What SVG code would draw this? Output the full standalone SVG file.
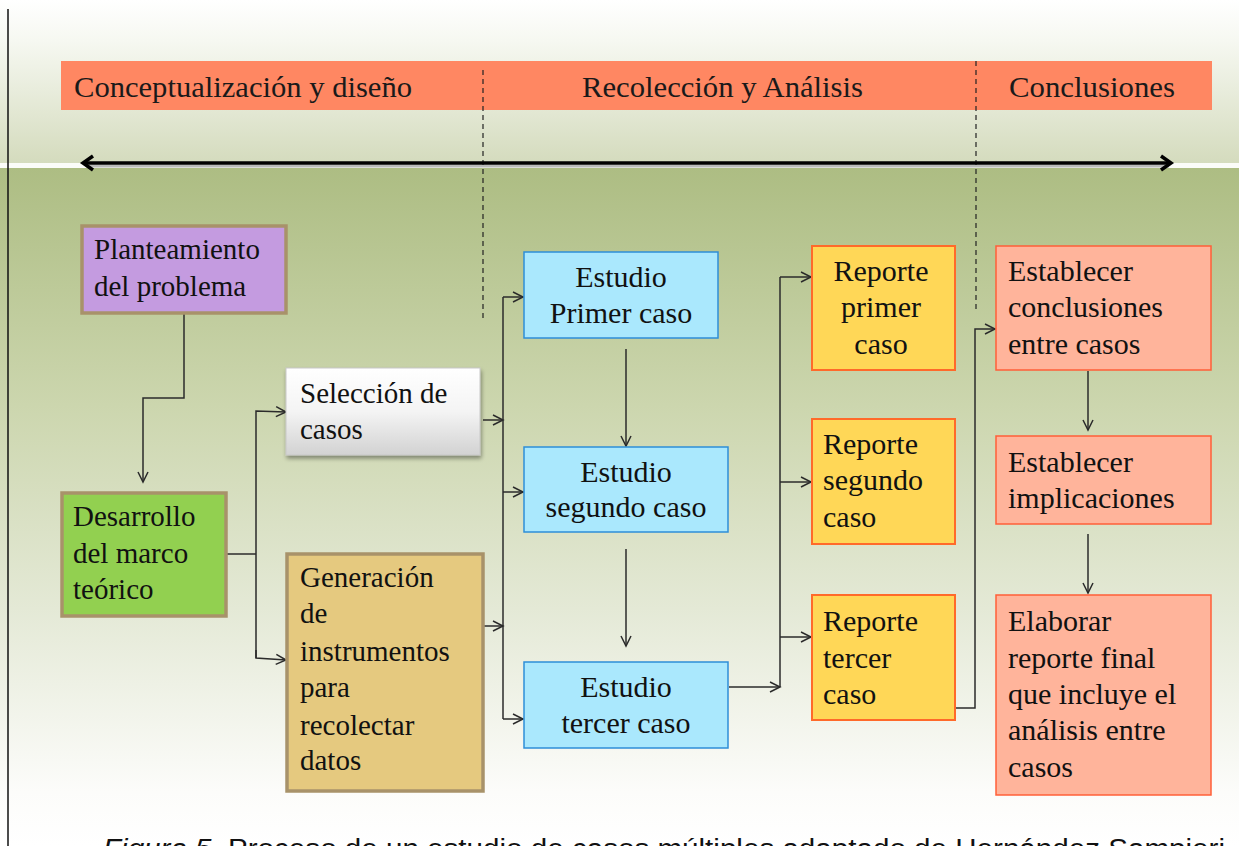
<svg xmlns="http://www.w3.org/2000/svg" width="1239" height="846" viewBox="0 0 1239 846">
<style>
.hdr{font-family:"Liberation Serif",serif;font-size:30px;fill:#1a1a1a}
.tl{font-family:"Liberation Serif",serif;font-size:29px;fill:#111}
.tr{font-family:"Liberation Serif",serif;font-size:30px;fill:#111}
.mid{text-anchor:middle}
.con{fill:none;stroke:#2b2b2b;stroke-width:1.5}
.dash{stroke:#222;stroke-width:1.2;stroke-dasharray:5,4}
.tan{stroke:#a8926a;stroke-width:3.5}
.blue{fill:#aae8fd;stroke:#2e8ed8;stroke-width:1.5}
.rep{fill:#ffd757;stroke:#ff6a2a;stroke-width:2}
.con2{fill:#ffb49b;stroke:#ff5f38;stroke-width:1.5}
.cap{font-family:"Liberation Sans",Arial,sans-serif;font-size:27px;fill:#111}
</style>
<defs>
<linearGradient id="bgTop" x1="0" y1="0" x2="0" y2="1">
<stop offset="0" stop-color="#ffffff"/>
<stop offset="0.25" stop-color="#f6f8f1"/>
<stop offset="1" stop-color="#d4dbbd"/>
</linearGradient>
<linearGradient id="bgBot" x1="0" y1="0" x2="0" y2="1">
<stop offset="0" stop-color="#adbd83"/>
<stop offset="0.35" stop-color="#ccd6ae"/>
<stop offset="0.65" stop-color="#e4e9d6"/>
<stop offset="0.92" stop-color="#fcfcfa"/>
<stop offset="1" stop-color="#ffffff"/>
</linearGradient>
<linearGradient id="selG" x1="0" y1="0" x2="0" y2="1">
<stop offset="0" stop-color="#ffffff"/>
<stop offset="0.5" stop-color="#f4f4f4"/>
<stop offset="1" stop-color="#d2d2d2"/>
</linearGradient>
<filter id="sh" x="-10%" y="-10%" width="125%" height="130%">
<feGaussianBlur in="SourceAlpha" stdDeviation="2"/>
<feOffset dx="1" dy="3"/>
<feComponentTransfer><feFuncA type="linear" slope="0.4"/></feComponentTransfer>
<feMerge><feMergeNode/><feMergeNode in="SourceGraphic"/></feMerge>
</filter>
<marker id="ah" markerUnits="userSpaceOnUse" markerWidth="14" markerHeight="14" viewBox="0 0 14 14" refX="12" refY="7" orient="auto">
<path d="M2,2 L12,7 L2,12" fill="none" stroke="#2b2b2b" stroke-width="1.5"/>
</marker>
<marker id="bigE" markerUnits="userSpaceOnUse" markerWidth="20" markerHeight="20" viewBox="0 0 20 20" refX="16" refY="10" orient="auto">
<path d="M6,3 L16,10 L6,17" fill="none" stroke="#000" stroke-width="3.5" stroke-linejoin="miter"/>
</marker>
<marker id="bigS" markerUnits="userSpaceOnUse" markerWidth="20" markerHeight="20" viewBox="0 0 20 20" refX="4" refY="10" orient="auto">
<path d="M14,3 L4,10 L14,17" fill="none" stroke="#000" stroke-width="3.5" stroke-linejoin="miter"/>
</marker>
</defs>

<g id="background">
<rect x="0" y="0" width="1239" height="164" fill="url(#bgTop)"/>
<rect x="0" y="163" width="1239" height="5" fill="#fbfcf8"/>
<rect x="0" y="168" width="1239" height="678" fill="url(#bgBot)"/>
<line x1="8" y1="9" x2="8" y2="846" stroke="#111" stroke-width="1.5"/>
</g>

<g id="header">
<rect x="61" y="61" width="1151" height="49" fill="#ff8762"/>
<text class="hdr" x="74" y="97" textLength="338" lengthAdjust="spacingAndGlyphs">Conceptualización y diseño</text>
<text class="hdr" x="582" y="97" textLength="281" lengthAdjust="spacingAndGlyphs">Recolección y Análisis</text>
<text class="hdr" x="1009" y="97" textLength="166" lengthAdjust="spacingAndGlyphs">Conclusiones</text>
<line class="dash" x1="483" y1="70" x2="483" y2="318"/>
<line class="dash" x1="976" y1="61" x2="976" y2="309"/>
</g>

<g id="timeline">
<line x1="86" y1="166" x2="1169" y2="166" stroke="#7a7a7a" stroke-width="3" opacity="0.5"/>
<line x1="83" y1="163" x2="1171" y2="163" stroke="#000" stroke-width="3.5" marker-start="url(#bigS)" marker-end="url(#bigE)"/>
</g>

<g id="connectors">
<path class="con" d="M184,313 V398 H143 V482" marker-end="url(#ah)"/>
<path class="con" d="M227,554 H256"/>
<path class="con" d="M256,658 V411 L286,412" marker-end="url(#ah)"/>
<path class="con" d="M256,650 L256,658 L286,660" marker-end="url(#ah)"/>
<path class="con" d="M483,420 H503" marker-end="url(#ah)"/>
<path class="con" d="M484,626 H503" marker-end="url(#ah)"/>
<path class="con" d="M503,297 V719"/>
<path class="con" d="M503,297 H523" marker-end="url(#ah)"/>
<path class="con" d="M503,492 H523" marker-end="url(#ah)"/>
<path class="con" d="M503,719 H523" marker-end="url(#ah)"/>
<path class="con" d="M626,349 V446" marker-end="url(#ah)"/>
<path class="con" d="M626,549 V646" marker-end="url(#ah)"/>
<path class="con" d="M729,687 H780" marker-end="url(#ah)"/>
<path class="con" d="M780,277 V687"/>
<path class="con" d="M780,277 H811" marker-end="url(#ah)"/>
<path class="con" d="M780,482 H811" marker-end="url(#ah)"/>
<path class="con" d="M780,637 H811" marker-end="url(#ah)"/>
<path class="con" d="M955,708 H975 V329 H995" marker-end="url(#ah)"/>
<path class="con" d="M1088,371 V430" marker-end="url(#ah)"/>
<path class="con" d="M1088,534 V593" marker-end="url(#ah)"/>
</g>

<g id="n-planteamiento">
<rect x="82" y="226" width="204" height="87" fill="#c49be0" class="tan"/>
<text class="tl" x="94" y="259">Planteamiento</text>
<text class="tl" x="94" y="296">del problema</text>
</g>

<g id="n-desarrollo">
<rect x="62" y="493" width="164" height="123" fill="#92d050" class="tan"/>
<text class="tl" x="73" y="526">Desarrollo</text>
<text class="tl" x="73" y="563">del marco</text>
<text class="tl" x="73" y="599">teórico</text>
</g>

<g id="n-seleccion">
<rect x="286" y="368" width="194" height="87" fill="url(#selG)" stroke="#c8c8c8" stroke-width="1" filter="url(#sh)"/>
<text class="tl" x="300" y="403">Selección de</text>
<text class="tl" x="300" y="439">casos</text>
</g>

<g id="n-generacion">
<rect x="287" y="554" width="196" height="237" fill="#e5c97f" class="tan"/>
<text class="tl" x="300" y="587">Generación</text>
<text class="tl" x="300" y="623">de</text>
<text class="tl" x="300" y="661">instrumentos</text>
<text class="tl" x="300" y="697">para</text>
<text class="tl" x="300" y="735">recolectar</text>
<text class="tl" x="300" y="770">datos</text>
</g>

<g id="n-estudio1">
<rect x="524" y="252" width="194" height="86" class="blue"/>
<text class="tr mid" x="621" y="287">Estudio</text>
<text class="tr mid" x="621" y="323">Primer caso</text>
</g>

<g id="n-estudio2">
<rect x="524" y="447" width="204" height="85" class="blue"/>
<text class="tr mid" x="626" y="482">Estudio</text>
<text class="tr mid" x="626" y="517">segundo caso</text>
</g>

<g id="n-estudio3">
<rect x="524" y="662" width="204" height="86" class="blue"/>
<text class="tr mid" x="626" y="697">Estudio</text>
<text class="tr mid" x="626" y="733">tercer caso</text>
</g>

<g id="n-reporte1">
<rect x="812" y="246" width="143" height="124" class="rep"/>
<text class="tr mid" x="881" y="281">Reporte</text>
<text class="tr mid" x="881" y="317">primer</text>
<text class="tr mid" x="881" y="354">caso</text>
</g>

<g id="n-reporte2">
<rect x="812" y="419" width="143" height="125" class="rep"/>
<text class="tr" x="823" y="454">Reporte</text>
<text class="tr" x="823" y="490">segundo</text>
<text class="tr" x="823" y="527">caso</text>
</g>

<g id="n-reporte3">
<rect x="812" y="595" width="143" height="125" class="rep"/>
<text class="tr" x="823" y="631">Reporte</text>
<text class="tr" x="823" y="668">tercer</text>
<text class="tr" x="823" y="704">caso</text>
</g>

<g id="n-conclusiones">
<rect x="996" y="246" width="215" height="124" class="con2"/>
<text class="tr" x="1008" y="281">Establecer</text>
<text class="tr" x="1008" y="317">conclusiones</text>
<text class="tr" x="1008" y="354">entre casos</text>
</g>

<g id="n-implicaciones">
<rect x="996" y="436" width="215" height="88" class="con2"/>
<text class="tr" x="1008" y="472">Establecer</text>
<text class="tr" x="1008" y="508">implicaciones</text>
</g>

<g id="n-elaborar">
<rect x="996" y="595" width="215" height="200" class="con2"/>
<text class="tr" x="1008" y="631">Elaborar</text>
<text class="tr" x="1008" y="668">reporte final</text>
<text class="tr" x="1008" y="704">que incluye el</text>
<text class="tr" x="1008" y="740">análisis entre</text>
<text class="tr" x="1008" y="777">casos</text>
</g>

<g id="caption">
<text class="cap" x="103" y="858" textLength="1122" lengthAdjust="spacingAndGlyphs"><tspan font-style="italic">Figura 5.</tspan> Proceso de un estudio de casos múltiples adaptado de Hernández Sampieri</text>
</g>
</svg>
